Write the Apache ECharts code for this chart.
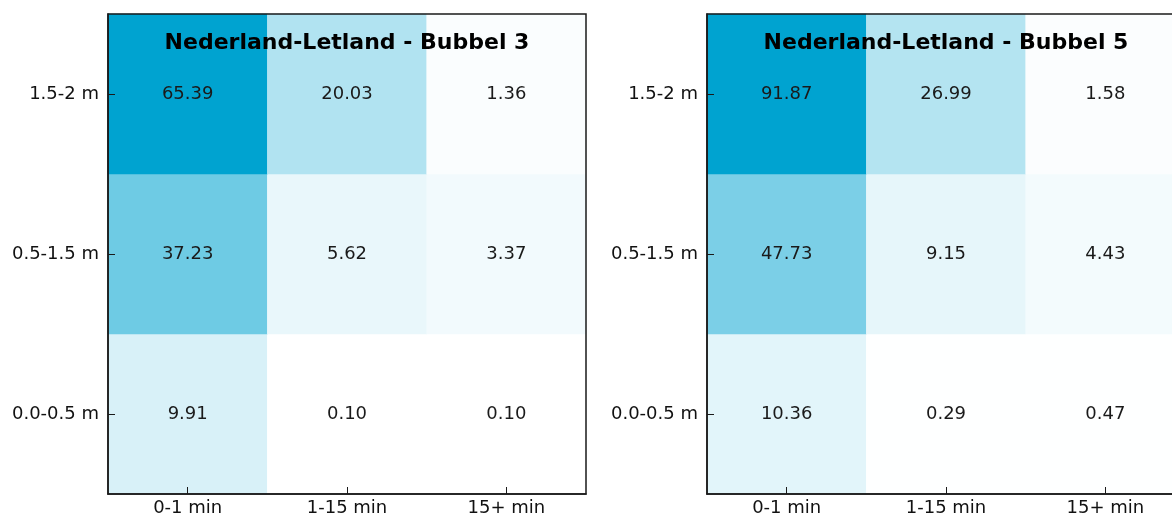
<!DOCTYPE html>
<html lang="nl">
<head>
    <meta charset="UTF-8">
    <title>Nederland-Letland heatmaps</title>
    <script src="https://cdn.jsdelivr.net/npm/echarts@6/dist/echarts.min.js"></script>
    <style>
        html, body { margin: 0; padding: 0; background: #fff; }
        #main { width: 1172px; height: 518px; }
    </style>
</head>
<body>
<div id="main"></div>
<script>
    // categories
    var timeCats = ['0-1 min', '1-15 min', '15+ min'];
    var heightCats = ['0.0-0.5 m', '0.5-1.5 m', '1.5-2 m'];   // bottom to top

    // values per row (heightCats order), columns in timeCats order
    var bubbel3 = [
        [9.91, 0.10, 0.10],
        [37.23, 5.62, 3.37],
        [65.39, 20.03, 1.36]
    ];
    var bubbel5 = [
        [10.36, 0.29, 0.47],
        [47.73, 9.15, 4.43],
        [91.87, 26.99, 1.58]
    ];
    var titles = ['Nederland-Letland - Bubbel 3', 'Nederland-Letland - Bubbel 5'];

    function toCells(rows) {
        var out = [];
        for (let r = 0; r < rows.length; r++) {
            for (let c = 0; c < rows[r].length; c++) {
                out.push([c, r, rows[r][c]]);
            }
        }
        return out;
    }
    function maxOf(rows) {
        return Math.max.apply(null, rows.map(function (r) { return Math.max.apply(null, r); }));
    }

    var font = 'DejaVu Sans';
    var dark = '#1a1a1a';
    var gridLefts = [108, 707];
    var gridW = 478;
    var tables = [bubbel3, bubbel5];

    var option = {
        backgroundColor: '#fff',
        animation: false,
        grid: [],
        xAxis: [],
        yAxis: [],
        visualMap: [],
        series: []
    };

    for (let i = 0; i < 2; i++) {
        option.grid.push({
            left: gridLefts[i], top: 14, width: gridW, height: 480,
            outerBoundsMode: 'none',
            show: true, z: 5,
            backgroundColor: 'transparent',
            borderColor: dark, borderWidth: 1.5
        });
        option.xAxis.push({
            type: 'category', gridIndex: i, data: timeCats,
            axisLine: { show: true, lineStyle: { color: dark, width: 1.5 } },
            axisTick: { show: true, inside: true, length: 7, alignWithLabel: true, lineStyle: { color: dark } },
            axisLabel: { color: '#111', fontSize: 18, fontFamily: font, margin: 5 },
            splitLine: { show: false },
            z: 6
        });
        option.yAxis.push({
            type: 'category', gridIndex: i, data: heightCats,
            axisLine: { show: true, lineStyle: { color: dark, width: 1.5 } },
            axisTick: { show: true, inside: true, length: 7, alignWithLabel: true, lineStyle: { color: dark } },
            axisLabel: { color: '#111', fontSize: 18, fontFamily: font, margin: 9 },
            splitLine: { show: false },
            z: 6
        });
        option.visualMap.push({
            show: false, seriesIndex: i, min: 0, max: maxOf(tables[i]),
            inRange: { color: ['#ffffff', '#00a3d0'] }
        });
        option.series.push({
            type: 'heatmap', xAxisIndex: i, yAxisIndex: i,
            data: toCells(tables[i]),
            label: {
                show: true, color: '#1a1a1a', fontSize: 18, fontFamily: font,
                formatter: function (p) { return p.value[2].toFixed(2); }
            },
            itemStyle: { borderWidth: 0 }
        });
    }

    // titles centred over each grid
    option.graphic = titles.map(function (t, i) {
        return {
            type: 'text', z: 100,
            x: gridLefts[i] + gridW / 2, y: 43,
            style: {
                text: t, fill: '#000', fontSize: 22, fontWeight: 'bold', fontFamily: font,
                align: 'center', verticalAlign: 'middle'
            }
        };
    });

    var myChart = echarts.init(document.getElementById('main'));
    myChart.setOption(option);
</script>
</body>
</html>
